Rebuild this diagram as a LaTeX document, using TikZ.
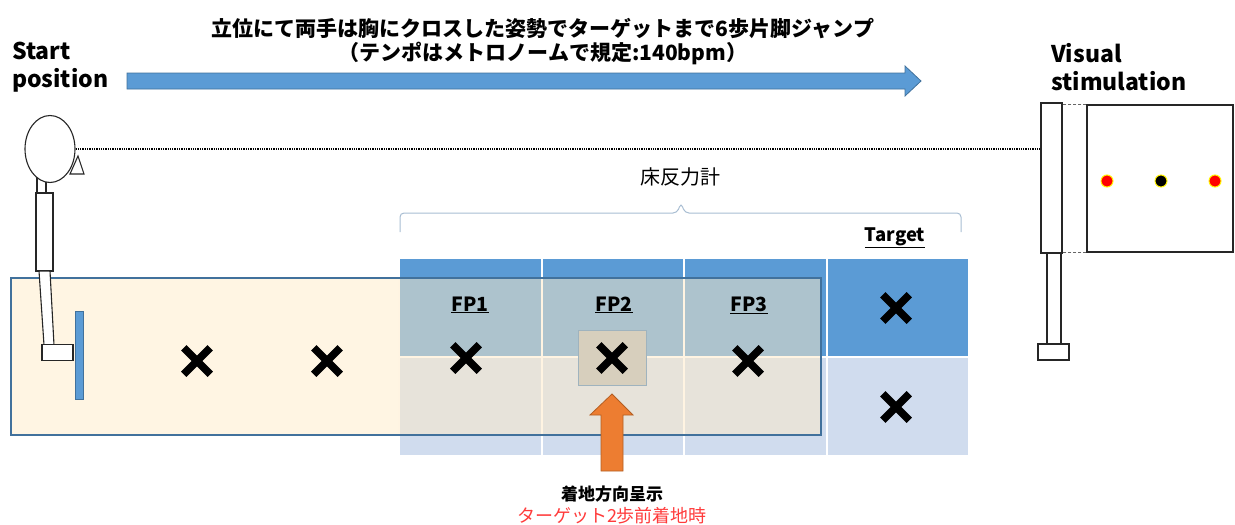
\documentclass[tikz,border=0pt]{standalone}
\usepackage{fontspec}
\setmainfont{Noto Sans CJK JP}
\usetikzlibrary{positioning,shapes.geometric,shapes.misc}
\definecolor{platec}{HTML}{5B9BD5}
\definecolor{platelc}{HTML}{D0DCEE}
\definecolor{edgec}{HTML}{41719C}
\definecolor{runc}{HTML}{FFEBC7}
\definecolor{fp2c}{HTML}{D7CFBD}
\definecolor{fp2edge}{HTML}{9FB3BE}
\definecolor{cuec}{HTML}{ED7D31}
\definecolor{cueedge}{HTML}{B35E22}
\definecolor{notec}{HTML}{FF3B3B}
\definecolor{bracec}{HTML}{A8BDD2}
\tikzset{
  part/.style={draw=black!85, fill=white, line width=1.1pt, inner sep=0pt},
  cell/.style={draw=white, line width=2pt, minimum width=142.5pt, minimum height=99pt, inner sep=0pt},
  xmark/.style={cross out, draw=black, line width=7.5pt, minimum size=19pt, inner sep=0pt},
  dot/.style={circle, draw=yellow, line width=1pt, minimum size=12pt, inner sep=0pt},
  biglbl/.style={font=\bfseries\fontsize{23}{28}\selectfont, align=left, inner sep=0pt},
  fplbl/.style={font=\bfseries\fontsize{19.5}{22}\selectfont, inner sep=0pt},
}

\begin{document}
\begin{tikzpicture}[x=1pt, y=-1pt]
  \useasboundingbox (0,0) rectangle (1235,525);

  % title and jump direction
  \node[font=\bfseries\fontsize{21}{24}\selectfont, align=center] (title) at (543,42)
       {立位にて両手は胸にクロスした姿勢でターゲットまで6歩片脚ジャンプ\\（テンポはメトロノームで規定:140bpm）};
  \node[biglbl, anchor=west] (startlbl) at (12,67) {Start\\position};
  \node[biglbl, anchor=west] (vislbl) at (1051,67) {Visual\\stimulation};
  \draw[fill=platec, draw=edgec, line width=0.8pt]
    (127,73) -- (905,73) -- (905,66) -- (921,81) -- (905,96) -- (905,89) -- (127,89) -- cycle;

  % force plates and target
  \foreach \c/\x in {1/470.5,2/613,3/755.5,4/898} {
    \node[cell, fill=platec] (c\c top) at (\x,307.5) {};
    \node[cell, fill=platelc] (c\c bot) at (\x,406.5) {};
  }
  \node[draw=edgec, line width=1.2pt, fill=runc, fill opacity=0.5, inner sep=0pt,
        minimum width=810pt, minimum height=157pt] (runway) at (416,356.5) {};
  \node[draw=fp2edge, fill=fp2c, line width=1pt, inner sep=0pt,
        minimum width=68pt, minimum height=55pt] (fp2box) at (612,357.5) {};

  \node[fplbl] (fp1) at (470,305) {\underline{FP1}};
  \node[fplbl] (fp2) at (614,305) {\underline{FP2}};
  \node[fplbl] (fp3) at (749,305) {\underline{FP3}};
  \node[fplbl, font=\bfseries\fontsize{18.5}{20}\selectfont] (target) at (895,238) {\underline{Target}};
  \node[font=\fontsize{20}{22}\selectfont] (plates) at (680,177) {床反力計};
  \draw[bracec, line width=1pt, rounded corners=4pt]
    (400,232) |- (677,213) -- (681,203) -- (685,213) -| (961,232);

  \node[xmark] (x1) at (197,361) {};
  \node[xmark] (x2) at (327,361) {};
  \node[xmark] (x3) at (466,358) {};
  \node[xmark] (x4) at (612,358) {};
  \node[xmark] (x5) at (748,361) {};
  \node[xmark] (x6) at (896,308) {};
  \node[xmark] (x7) at (896,407) {};

  % landing cue
  \draw[fill=cuec, draw=cueedge, line width=0.8pt]
    (601,471) -- (601,415) -- (590,415) -- (612,394) -- (633,415) -- (623,415) -- (623,471) -- cycle;
  \node[font=\bfseries\fontsize{17}{20}\selectfont] (cue) at (612,494) {着地方向呈示};
  \node[font=\fontsize{18}{20}\selectfont, text=notec] (cuenote) at (612,516) {ターゲット2歩前着地時};

  % jumper at the start
  \draw[part] (70,174) -- (84,174) -- (78,156) -- cycle;
  \node[part, minimum width=9pt, minimum height=16pt] (neck) at (41.5,185) {};
  \node[part, ellipse, minimum width=50pt, minimum height=67pt] (head) at (50,149) {};
  \node[part, minimum width=17pt, minimum height=78pt] (body) at (44.5,232) {};
  \draw[part] (39,271) -- (50,271) -- (54,345) -- (44,345) -- cycle;
  \node[part, minimum width=31pt, minimum height=16pt] (foot) at (57.5,352.5) {};
  \node[fill=platec, draw=edgec, line width=0.6pt, inner sep=0pt,
        minimum width=8pt, minimum height=88pt] (startbar) at (79,355) {};

  % stimulus screen on its stand
  \node[part, minimum width=21pt, minimum height=150pt] (stand) at (1051.5,178) {};
  \node[part, minimum width=14pt, minimum height=91pt] (pole) at (1054,298.5) {};
  \node[part, minimum width=31pt, minimum height=16pt] (base) at (1053.5,352) {};
  \node[part, minimum width=146pt, minimum height=147pt] (screen) at (1160,178.5) {};
  \node[dot, fill=red] (dotl) at (1107,181) {};
  \node[dot, fill=black] (dotc) at (1161,181) {};
  \node[dot, fill=red] (dotr) at (1215,181) {};
  \draw[densely dashed, black!60, line width=0.6pt] (screen.north west) -- (screen.north west -| stand.east);
  \draw[densely dashed, black!60, line width=0.6pt] (screen.south west) -- (screen.south west -| stand.east);

  % line of sight
  \draw[densely dotted, line width=1.3pt] (head.east) -- (head.east -| stand.west);
\end{tikzpicture}
\end{document}
